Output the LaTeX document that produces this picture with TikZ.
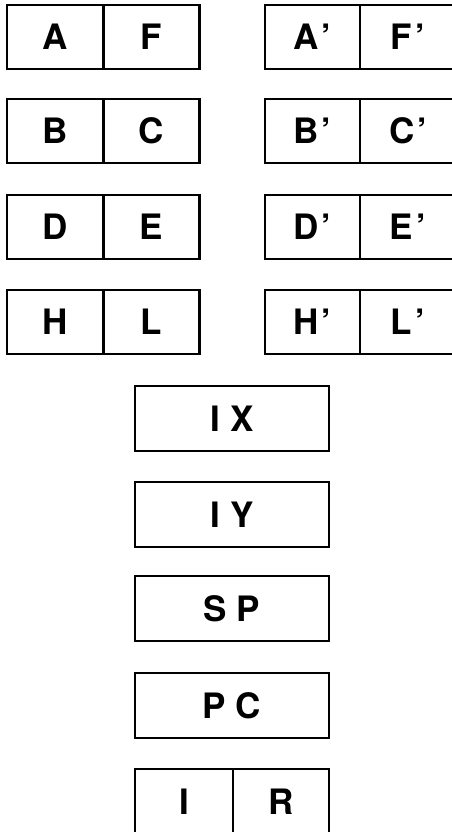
\documentclass[tikz,border=0pt]{standalone}
\usepackage{fontspec}
\setmainfont{TeX Gyre Heros}
\tikzset{
cell/.style={draw, line width=2.2pt, inner sep=0pt, minimum height=64pt,
    text height=25pt, text depth=0pt, font=\fontsize{35}{35}\selectfont\bfseries},
half/.style={cell, minimum width=96pt},
wide/.style={cell, minimum width=194pt, minimum height=65pt}}
\tikzset{every picture/.style={line width=0.75pt}}

\begin{document}
\begin{tikzpicture}[x=1pt,y=1pt,yscale=-1,xscale=1]

    \useasboundingbox (0,0) rectangle (452,832);
    \clip (0,0) rectangle (452,832);

    % register pairs, left and primed set
    \foreach \l/\r/\y in {A/F/37, B/C/131, D/E/227, H/L/322}{
        \node [half, minimum width=97pt] (\l) at (55.5,\y) {\l};
        \node [half] (\r) at (151.5,\y) {\r};
        \node [half, minimum width=95pt] (\l p) at (312.5,\y) {\l\kern3pt'};
        \node [half] (\r p) at (408,\y) {\r\kern3pt'};
    }

    % 16-bit registers
    \foreach \t/\n/\y in {I X/IX/418.5, I Y/IY/514.5, S P/SP/608.5, P C/PC/705.5}{
        \node [wide] (\n) at (232,\y) {\t};
    }

    % I and R
    \node [half, minimum width=98pt, minimum height=65pt] (I) at (184,801.5) {I};
    \node [half, minimum height=65pt] (R) at (281,801.5) {R};

\end{tikzpicture}
\end{document}
